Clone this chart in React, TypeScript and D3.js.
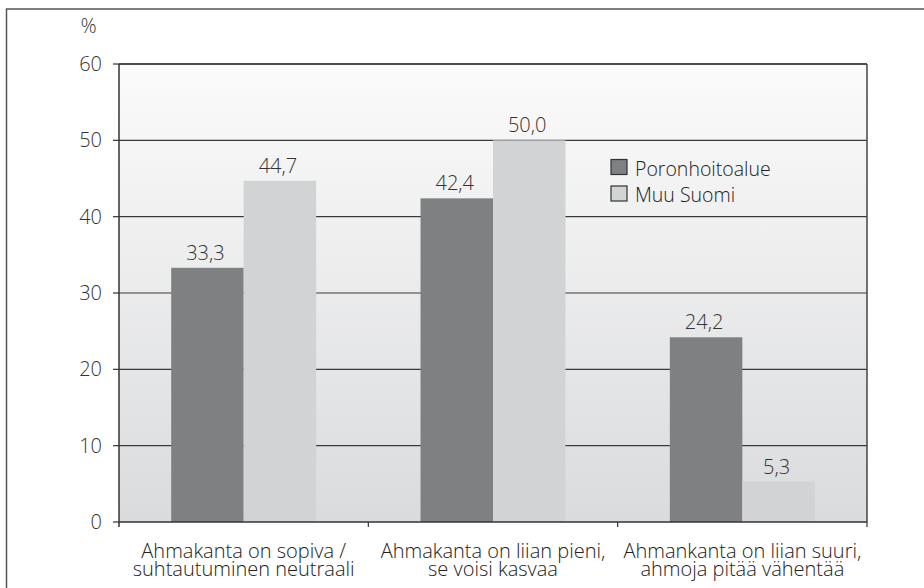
import React from "react";
import * as d3 from "d3";

const categories: string[][] = [
  ["Ahmakanta on sopiva /", "suhtautuminen neutraali"],
  ["Ahmakanta on liian pieni,", "se voisi kasvaa"],
  ["Ahmankanta on liian suuri,", "ahmoja pitää vähentää"],
];
const seriesNames = ["Poronhoitoalue", "Muu Suomi"];
const poronhoitoalue = [33.3, 42.4, 24.2];
const muuSuomi = [44.7, 50.0, 5.3];
const yTicks = [0, 10, 20, 30, 40, 50, 60];

const colors = ["#7f8082", "#d2d3d5"];
const FONT = "'Open Sans', 'Noto Sans', sans-serif";
const FS = 20;

export default function App() {
  const left = 119, right = 867, top = 64, bottom = 522;
  const y = d3.scaleLinear().domain([0, 60]).range([bottom, top]);
  const x0 = d3.scaleBand<number>().domain([0, 1, 2]).range([left, right]).paddingInner(0).paddingOuter(0);
  const x1 = d3.scaleBand<number>().domain([0, 1]).range([0, x0.bandwidth()]).paddingInner(0).paddingOuter(0.72);
  const series = [poronhoitoalue, muuSuomi];
  const fmt = (v: number) => v.toFixed(1).replace(".", ",");

  return (
    <svg width={924} height={588} style={{ position: "absolute", left: 0, top: 0 }} fontFamily={FONT} fontWeight={300}>
      <defs>
        <linearGradient id="bg" x1="0" y1="0" x2="0" y2="1">
          <stop offset="0" stopColor="#fbfbfb" />
          <stop offset="1" stopColor="#dadbdd" />
        </linearGradient>
      </defs>
      <rect x={0} y={0} width={924} height={588} fill="#fff" />
      <rect x={6.5} y={9} width={1000} height={1000} fill="none" stroke="#555" strokeWidth={1.5} />
      <rect x={left} y={top} width={right - left} height={bottom - top} fill="url(#bg)" />
      {/* gridlines */}
      {yTicks.filter((t) => t > 0).map((t) => (
        <line key={t} x1={left} x2={right} y1={y(t)} y2={y(t)} stroke="#3a3a3a" strokeWidth={1.2} />
      ))}
      {/* bars */}
      {series.map((vals, si) =>
        vals.map((v, ci) => (
          <rect
            key={`${si}-${ci}`}
            x={x0(ci)! + x1(si)!}
            y={y(v)}
            width={x1.bandwidth()}
            height={y(0) - y(v)}
            fill={colors[si]}
          />
        ))
      )}
      {/* value labels */}
      {series.map((vals, si) =>
        vals.map((v, ci) => (
          <text
            key={`l${si}-${ci}`}
            x={x0(ci)! + x1(si)! + x1.bandwidth() / 2 - 2}
            y={y(v) - 8}
            textAnchor="middle"
            fontSize={FS}
            fill="#333"
          >
            {fmt(v)}
          </text>
        ))
      )}
      {/* frame */}
      <line x1={left} x2={right} y1={top} y2={top} stroke="#333" strokeWidth={1.5} />
      <line x1={right} x2={right} y1={top} y2={bottom} stroke="#444" strokeWidth={1.5} />
      <line x1={left} x2={left} y1={top} y2={bottom + 5} stroke="#333" strokeWidth={1.5} />
      <line x1={left} x2={right} y1={bottom} y2={bottom} stroke="#333" strokeWidth={1.5} />
      {/* y ticks */}
      {yTicks.map((t) => (
        <g key={`yt${t}`}>
          <line x1={left - 6} x2={left} y1={y(t)} y2={y(t)} stroke="#333" strokeWidth={1.2} />
          <text x={102} y={y(t) + 7} textAnchor="end" fontSize={FS} fill="#333">
            {t}
          </text>
        </g>
      ))}
      <text x={88.5} y={33} textAnchor="middle" fontSize={FS} fill="#333">%</text>
      {/* x ticks */}
      {[0, 1, 2].map((i) => (
        <line key={`xt${i}`} x1={x0(i)! + x0.bandwidth()} x2={x0(i)! + x0.bandwidth()} y1={bottom} y2={bottom + 5} stroke="#333" strokeWidth={1.2} />
      ))}
      {/* category labels */}
      {categories.map((lines, i) => (
        <text key={`c${i}`} x={x0(i)! + x0.bandwidth() / 2} textAnchor="middle" fontSize={FS} fill="#222">
          {lines.map((l, j) => (
            <tspan key={j} x={x0(i)! + x0.bandwidth() / 2} y={558 + j * 18}>
              {l}
            </tspan>
          ))}
        </text>
      ))}
      {/* legend */}
      {seriesNames.map((n, i) => (
        <g key={n}>
          <rect x={611} y={159.5 + i * 26.5} width={16} height={15} fill={colors[i]} stroke="#333" strokeWidth={1.2} />
          <text x={635} y={175.5 + i * 26} fontSize={19.5} fill="#222">
            {n}
          </text>
        </g>
      ))}
    </svg>
  );
}
